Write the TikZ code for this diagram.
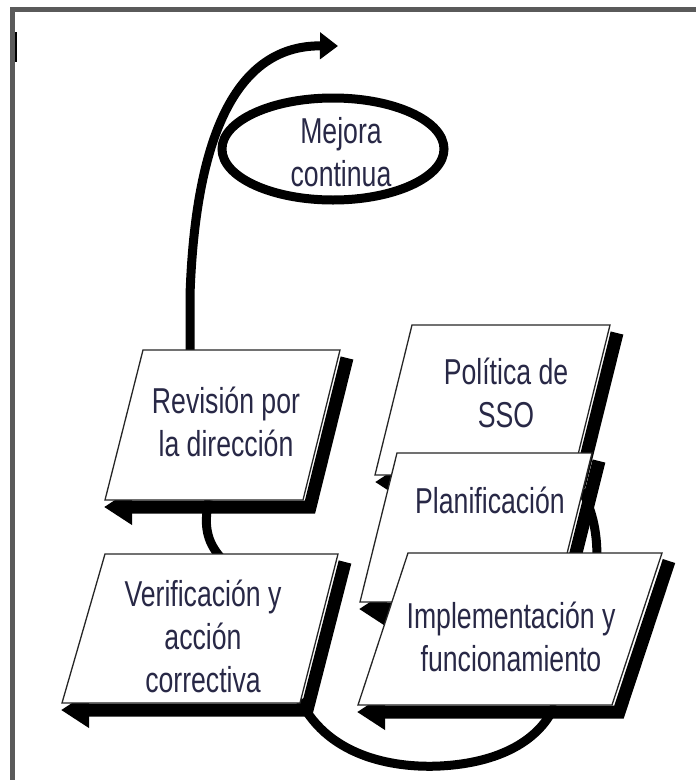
\documentclass[tikz,border=0pt]{standalone}
\usepackage{fontspec}
\setmainfont{Liberation Sans}[FakeStretch=0.74]
\usetikzlibrary{arrows.meta}
\definecolor{framegray}{RGB}{90,90,90}
\definecolor{txt}{RGB}{40,40,70}
\tikzset{
  slab/.style={fill=white, draw=black!85, line width=1.3pt},
  drop/.style={line width=13pt, -{Triangle[length=28pt,width=34pt]}},
  swirl/.style={line width=9pt},
  lbl/.style={text=txt, align=center, inner sep=0pt, font=\fontsize{36}{43}\selectfont}
}
\begin{document}
\begin{tikzpicture}[x=1pt, y=-1pt]
        \useasboundingbox (0,0) rectangle (696,780);
        \draw[framegray, line width=5pt] (12.5,790) -- (12.5,9.5) -- (710,9.5);
        \draw[line width=2.5pt] (16,32) -- (16,62);

        \coordinate (rev-top) at (190,350);
        \coordinate (mej-tip) at (338,46);
        \coordinate (rev-bot) at (209,500);
        \coordinate (ver-top) at (221,558);
        \coordinate (plan-bot) at (582,490);
        \coordinate (imp-top) at (597,558);
        \coordinate (ver-bot) at (300,700);
        \coordinate (imp-bot) at (555,705);

        % curves first, the boxes cover their ends
        \draw[swirl, -{Triangle[length=18pt,width=26pt]}] (rev-top) -- (190,295) .. controls (195,150) and (230,45) .. (mej-tip);
        \draw[swirl] (333,149) ellipse [x radius=111, y radius=51];
        \draw[swirl] (rev-bot) .. controls (202,530) and (210,545) .. (ver-top);
        \draw[swirl] (plan-bot) .. controls (594,515) and (597,535) .. (imp-top);
        \draw[swirl] (ver-bot) .. controls (330,760) and (400,768) .. (440,766) .. controls (500,763) and (540,740) .. (imp-bot);

        % Politica de SSO
        \draw[drop] (617,333) -- (580,482) -- (375,482);
        \draw[slab] (412,325) -- (610,325) -- (573,475) -- (375,475) -- cycle;
        % Planificacion
        \draw[drop] (599,461) -- (562,609) -- (359,609);
        \draw[slab] (397,453) -- (592,453) -- (555,602) -- (360,602) -- cycle;
        % Implementacion
        \draw[drop] (669,561) -- (619,712) -- (357,712);
        \draw[slab] (408,553) -- (662,553) -- (612,705) -- (358,705) -- cycle;
        % Revision
        \draw[drop] (347,358) -- (310,507) -- (104,507);
        \draw[slab] (143,350) -- (340,350) -- (303,500) -- (105,500) -- cycle;
        % Verificacion
        \draw[drop] (345,562) -- (307,710) -- (61,710);
        \draw[slab] (105,554) -- (338,554) -- (300,703) -- (62,703) -- cycle;

        \node[lbl] (mejora) at (341,152) {Mejora\\continua};
        \node[lbl] (revision) at (226,422) {Revisión por\\la dirección};
        \node[lbl] (politica) at (506,393) {Política de\\SSO};
        \node[lbl] (planif) at (490,500) {Planificación};
        \node[lbl] (implem) at (511,637) {Implementación y\\funcionamiento};
        \node[lbl] (verif) at (203,636) {Verificación y\\acción\\correctiva};
\end{tikzpicture}
\end{document}
